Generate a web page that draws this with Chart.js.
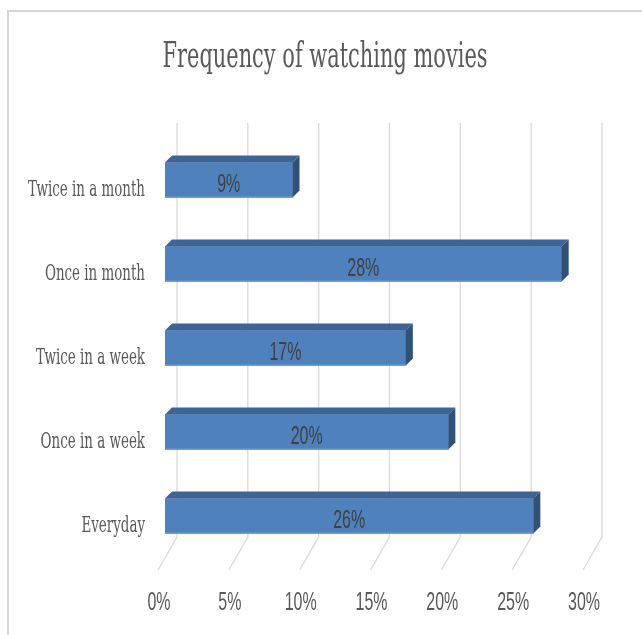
<!DOCTYPE html>
<html>
<head>
<meta charset="utf-8">
<script src="https://cdn.jsdelivr.net/npm/chart.js@4.4.0/dist/chart.umd.min.js"></script>
<style>
  html, body { margin: 0; padding: 0; background: #fff; }
  canvas { display: block; }
</style>
</head>
<body>
<canvas id="chartMovies" width="642" height="635"></canvas>
<script>
const chartTitle = "Frequency of watching movies";
const categories = ["Twice in a month", "Once in month", "Twice in a week", "Once in a week", "Everyday"];
const shares = [9, 28, 17, 20, 26];
const tickLabels = ["0%", "5%", "10%", "15%", "20%", "25%", "30%"];

const frontColor = "#4f81bd";
const topColor = "#3d6496";
const sideColor = "#2f5079";
const gridColor = "#d9d9d9";
const depth = 7;

// text in the picture is tall and narrow, so draw it squeezed
function squeezed(ctx, text, x, y, font, color, align, sx) {
  ctx.save();
  ctx.font = font;
  ctx.fillStyle = color;
  ctx.textAlign = align;
  ctx.textBaseline = "alphabetic";
  ctx.translate(x, y);
  ctx.scale(sx, 1);
  ctx.fillText(text, 0, 0);
  ctx.restore();
}

function widthOf(ctx, text, font) {
  ctx.save();
  ctx.font = font;
  const w = ctx.measureText(text).width;
  ctx.restore();
  return w;
}

const titleFont = "36px 'DejaVu Serif'";
const catFont = "22px 'DejaVu Serif'";
const numFont = "25px 'Liberation Sans'";

const framePlugin = {
  id: "frame",
  beforeDraw(chart) {
    const ctx = chart.ctx;
    ctx.save();
    ctx.fillStyle = "#fff";
    ctx.fillRect(0, 0, chart.width, chart.height);
    ctx.strokeStyle = "#d6d6d6";
    ctx.lineWidth = 2;
    ctx.strokeRect(8, 11, chart.width + 20, chart.height + 20);
    ctx.restore();
  },
};

const floorGridPlugin = {
  id: "floorGrid",
  beforeDatasetsDraw(chart) {
    const ctx = chart.ctx;
    const xs = chart.scales.x;
    const area = chart.chartArea;
    ctx.save();
    ctx.strokeStyle = gridColor;
    ctx.lineWidth = 1.3;
    xs.ticks.forEach((t) => {
      const px = xs.getPixelForValue(t.value);
      ctx.beginPath();
      ctx.moveTo(px + 12, 123);
      ctx.lineTo(px + 12, area.bottom - 21);
      ctx.lineTo(px - 7, area.bottom + 12);
      ctx.stroke();
    });
    ctx.restore();
  },
};

const bar3dPlugin = {
  id: "bar3d",
  afterDatasetsDraw(chart) {
    const ctx = chart.ctx;
    const meta = chart.getDatasetMeta(0);
    ctx.save();
    meta.data.forEach((bar, i) => {
      const { x, y, base, height } = bar.getProps(["x", "y", "base", "height"], true);
      const top = y - height / 2;
      const bottom = y + height / 2;
      ctx.fillStyle = topColor;
      ctx.beginPath();
      ctx.moveTo(base, top);
      ctx.lineTo(base + depth, top - depth);
      ctx.lineTo(x + depth, top - depth);
      ctx.lineTo(x, top);
      ctx.closePath();
      ctx.fill();
      ctx.fillStyle = sideColor;
      ctx.beginPath();
      ctx.moveTo(x, top);
      ctx.lineTo(x + depth, top - depth);
      ctx.lineTo(x + depth, bottom - depth);
      ctx.lineTo(x, bottom);
      ctx.closePath();
      ctx.fill();
      ctx.fillStyle = "#6f9bd1";
      ctx.fillRect(base, bottom - 1, x - base, 1);

      const sx = 32 / widthOf(ctx, "30%", numFont);
      squeezed(ctx, shares[i] + "%", (base + x) / 2, y + 12, numFont, "#404040", "center", sx);
    });
    ctx.restore();
  },
};

const textPlugin = {
  id: "texts",
  afterDraw(chart) {
    const ctx = chart.ctx;
    const xs = chart.scales.x;
    const ys = chart.scales.y;

    const tsx = 325 / widthOf(ctx, chartTitle, titleFont);
    squeezed(ctx, chartTitle, 325, 67, titleFont, "#595959", "center", tsx);

    const csx = 117 / widthOf(ctx, "Twice in a month", catFont);
    ys.getLabels().forEach((label, i) => {
      squeezed(ctx, label, 145, ys.getPixelForValue(i) + 16, catFont, "#595959", "right", csx);
    });

    const nsx = 32 / widthOf(ctx, "30%", numFont);
    xs.ticks.forEach((t) => {
      squeezed(ctx, t.label, xs.getPixelForValue(t.value) - 6, 610, numFont, "#595959", "center", nsx);
    });
  },
};

new Chart(document.getElementById("chartMovies"), {
  type: "bar",
  data: {
    labels: categories,
    datasets: [
      {
        label: "Share",
        data: shares,
        backgroundColor: frontColor,
        borderWidth: 0,
        barThickness: 35,
      },
    ],
  },
  options: {
    indexAxis: "y",
    responsive: false,
    animation: false,
    layout: {
      padding: { left: 157, right: 52, top: 138, bottom: 69 },
    },
    scales: {
      x: {
        min: 0,
        max: 30,
        ticks: {
          display: false,
          stepSize: 5,
          callback: (v, i) => tickLabels[i],
        },
        grid: { display: false },
        border: { display: false },
      },
      y: {
        ticks: { display: false },
        grid: { display: false },
        border: { display: false },
      },
    },
    plugins: {
      legend: { display: false },
      title: { display: false },
      tooltip: { enabled: false },
    },
  },
  plugins: [framePlugin, floorGridPlugin, bar3dPlugin, textPlugin],
});
</script>
</body>
</html>
